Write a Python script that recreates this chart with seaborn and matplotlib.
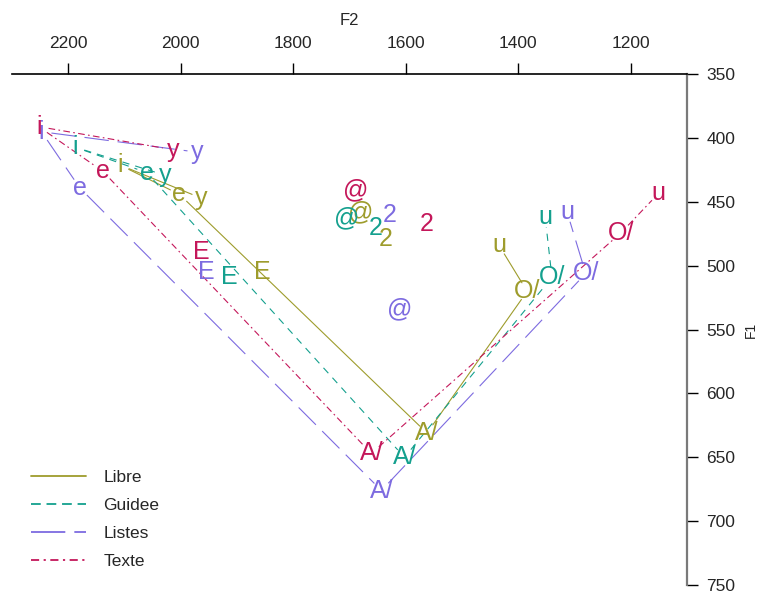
import numpy as np
import pandas as pd
import matplotlib
matplotlib.use("Agg")
import matplotlib.pyplot as plt
import seaborn as sns

# voyelles et groupes
vowels = ["i", "y", "e", "E", "A/", "O/", "u", "2", "@"]
groups = ["Libre", "Guidee", "Listes", "Texte"]

# F2 / F1 (Hz) par groupe, dans l'ordre de `vowels`
f2_libre = [2108, 1963, 2002, 1854, 1562, 1384, 1434, 1636, 1679]
f1_libre = [421, 447, 444, 505, 631, 520, 484, 479, 458]
f2_guidee = [2188, 2028, 2060, 1913, 1602, 1340, 1352, 1654, 1704]
f1_guidee = [407, 429, 427, 509, 650, 509, 462, 470, 463]
f2_listes = [2247, 1970, 2179, 1954, 1643, 1280, 1313, 1629, 1611]
f1_listes = [395, 411, 439, 505, 676, 506, 458, 460, 534]
f2_texte = [2252, 2014, 2138, 1963, 1661, 1217, 1150, 1562, 1688]
f1_texte = [391, 409, 426, 489, 647, 474, 443, 467, 441]

# trajets du triangle vocalique
path_main = ["i", "e", "A/", "O/", "u"]
path_round = ["i", "y"]

colors = {"Libre": "#9e9c2c", "Guidee": "#14a08e", "Listes": "#7d6be0", "Texte": "#c4175a"}
dashes = {"Libre": "", "Guidee": (6.5, 5.5), "Listes": (22, 8), "Texte": (6, 3, 1.5, 3)}
legend_dashes = {"Libre": None, "Guidee": (5.4, 3.2), "Listes": (19, 5), "Texte": (4.5, 2.5, 1.2, 2.5)}

rows = []
for g, f2s, f1s in zip(groups, [f2_libre, f2_guidee, f2_listes, f2_texte],
                       [f1_libre, f1_guidee, f1_listes, f1_texte]):
    for v, a, b in zip(vowels, f2s, f1s):
        rows.append({"group": g, "vowel": v, "F2": a, "F1": b})
df = pd.DataFrame(rows)

sns.set_style("white")
plt.rcParams["font.family"] = ["Liberation Sans", "DejaVu Sans"]

fig = plt.figure(figsize=(7.65, 5.91), dpi=100)
ax = fig.add_axes([11.7 / 765, 6 / 591, (687 - 11.7) / 765, (585 - 74.3) / 591])
ax.set_xlim(2300, 1100)
ax.set_ylim(750, 350)

# segments raccourcis autour des étiquettes (comme type="b" dans R)
gap = 10
seg_rows = []
sid = 0
to_disp = ax.transData
to_data = ax.transData.inverted()
for g in groups:
    sub = df[df.group == g].set_index("vowel")
    for path in (path_main, path_round):
        for a, b in zip(path[:-1], path[1:]):
            p0 = to_disp.transform((sub.loc[a, "F2"], sub.loc[a, "F1"]))
            p1 = to_disp.transform((sub.loc[b, "F2"], sub.loc[b, "F1"]))
            d = p1 - p0
            u = d / np.hypot(*d)
            q0 = to_data.transform(p0 + gap * u)
            q1 = to_data.transform(p1 - gap * u)
            for k, q in enumerate((q0, q1)):
                seg_rows.append({"group": g, "seg": sid, "order": k, "F2": q[0], "F1": q[1]})
            sid += 1
segs = pd.DataFrame(seg_rows)

sns.lineplot(data=segs, x="F2", y="F1", hue="group", style="group", units="seg",
             estimator=None, sort=False, palette=colors, dashes=dashes,
             hue_order=groups, style_order=groups, linewidth=0.8, ax=ax)

for _, r in df.iterrows():
    ax.text(r.F2, r.F1, r.vowel, color=colors[r.group], fontsize=18,
            ha="center", va="center")

ax.set_xlim(2300, 1100)
ax.set_ylim(750, 350)

# axes à la R : en haut et à droite
ax.xaxis.tick_top()
ax.xaxis.set_label_position("top")
ax.yaxis.tick_right()
ax.yaxis.set_label_position("right")
ax.set_xticks([2200, 2000, 1800, 1600, 1400, 1200])
ax.set_yticks(np.arange(350, 751, 50))
ax.tick_params(axis="x", direction="out", length=8, width=1, color="black",
               labelsize=12.5, pad=9)
ax.tick_params(axis="y", direction="out", length=8, width=1, color="black",
               labelsize=12.5, pad=6)
ax.set_xlabel("F2", fontsize=12, labelpad=8)
ax.set_ylabel("F1", fontsize=10, labelpad=6, rotation=90)
for s in ["left", "bottom"]:
    ax.spines[s].set_visible(False)
ax.spines["top"].set_color("black")
ax.spines["top"].set_linewidth(1.2)
ax.spines["right"].set_color("#7a7a7a")
ax.spines["right"].set_linewidth(1.6)

handles, labels = ax.get_legend_handles_labels()
leg = ax.legend(handles, labels, loc="lower left", bbox_to_anchor=(0.005, 0.0),
                frameon=False, fontsize=12.5, handlelength=3.2, handletextpad=1.0,
                labelspacing=0.75)
for h, lab in zip(leg.get_lines(), labels):
    h.set_linewidth(1.3)
    if legend_dashes.get(lab):
        h.set_dashes(legend_dashes[lab])

fig.savefig("out.png", dpi=100)
